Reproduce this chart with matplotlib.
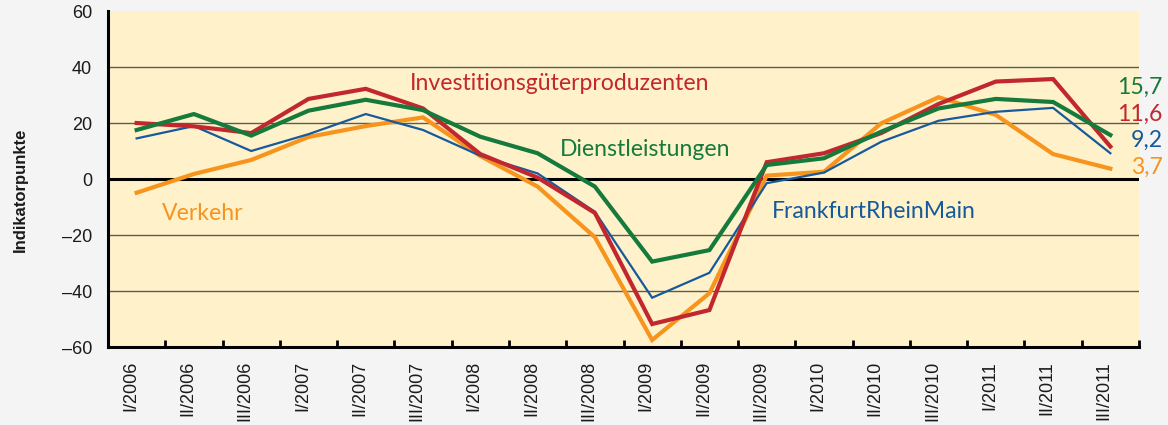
import matplotlib
matplotlib.use("Agg")
import matplotlib.pyplot as plt
import matplotlib.transforms as mtransforms

categories = ["I/2006", "II/2006", "III/2006", "I/2007", "II/2007", "III/2007",
              "I/2008", "II/2008", "III/2008", "I/2009", "II/2009", "III/2009",
              "I/2010", "II/2010", "III/2010", "I/2011", "II/2011", "III/2011"]

investition = [20.0, 18.8, 16.4, 28.6, 32.2, 25.2, 8.9, 0.5, -12.1, -51.8, -46.8, 6.0,
               9.2, 16.4, 26.8, 34.8, 35.7, 11.6]
dienstleistung = [17.5, 23.2, 15.5, 24.4, 28.3, 24.6, 15.1, 9.2, -2.7, -29.5, -25.4, 5.0,
                  7.4, 16.9, 25.2, 28.6, 27.5, 15.7]
frm = [14.5, 18.9, 10.0, 16.0, 23.2, 17.5, 8.3, 2.0, -11.7, -42.4, -33.5, -1.5,
       2.3, 13.3, 20.8, 24.0, 25.4, 9.2]
verkehr = [-4.9, 1.8, 6.8, 15.0, 18.9, 22.0, 8.2, -2.7, -20.8, -57.5, -40.8, 1.2,
           2.6, 19.9, 29.2, 22.9, 8.9, 3.7]

end_labels = ["15,7", "11,6", "9,2", "3,7"]
yticks = [-60, -40, -20, 0, 20, 40, 60]

RED = "#C1272D"
GREEN = "#157A3C"
BLUE = "#165A9C"
ORANGE = "#F7941D"
BG_OUT = "#F3F4F3"
BG_IN = "#FFF2CB"

fig = plt.figure(figsize=(11.68, 4.25), dpi=100, facecolor=BG_OUT)
ax = fig.add_axes([108/1168, 78/425, (1139-108)/1168, (414-78)/425])
ax.set_facecolor(BG_IN)

x = list(range(len(categories)))
ax.set_xlim(-0.5, len(categories) - 0.5)
ax.set_ylim(-60, 60)

for yv in [-40, -20, 20, 40]:
    ax.axhline(yv, color="#5f5a4c", lw=1.0, zorder=1)
ax.axhline(0, color="black", lw=2.2, zorder=2)

ax.plot(x, verkehr, color=ORANGE, lw=3.0, zorder=3, solid_joinstyle="miter")
ax.plot(x, frm, color=BLUE, lw=1.6, zorder=4, solid_joinstyle="miter")
ax.plot(x, investition, color=RED, lw=3.0, zorder=5, solid_joinstyle="miter")
ax.plot(x, dienstleistung, color=GREEN, lw=3.0, zorder=6, solid_joinstyle="miter")

for s in ["top", "right"]:
    ax.spines[s].set_visible(False)
for s in ["left", "bottom"]:
    ax.spines[s].set_linewidth(2.2)
    ax.spines[s].set_color("black")

ax.set_yticks(yticks)
ax.set_yticklabels([str(v).replace("-", "\u2013") for v in yticks],
                   fontsize=13, family="Liberation Sans", color="#1a1a1a")
ax.tick_params(axis="y", length=0, pad=11.5)

ax.set_xticks([i + 0.5 for i in x])
ax.set_xticklabels([])
ax.tick_params(axis="x", which="major", direction="in", length=5, width=2, color="black")
ax.set_xticks(x, minor=True)
ax.set_xticklabels(categories, minor=True, rotation=90, fontsize=13,
                   family="Liberation Sans", color="#1a1a1a")
ax.tick_params(axis="x", which="minor", length=0, pad=10)
offset = mtransforms.ScaledTranslation(-6/100, 0, fig.dpi_scale_trans)
for lab in ax.get_xticklabels(minor=True):
    lab.set_transform(lab.get_transform() + offset)

fig.text(20/1168, 1 - 190/425, "Indikatorpunkte", rotation=90, ha="center", va="center",
         fontsize=12, fontweight="bold", family="Liberation Sans", color="#1a1a1a")

tf = "Lato"
fs = 16.6
ax.text(4.77, 31.8, "Investitionsgüterproduzenten", color=RED, fontsize=fs, family=tf,
        ha="left", va="baseline", zorder=7)
ax.text(7.39, 8.2, "Dienstleistungen", color=GREEN, fontsize=fs, family=tf,
        ha="left", va="baseline", zorder=7)
ax.text(0.44, -14.6, "Verkehr", color=ORANGE, fontsize=fs, family=tf,
        ha="left", va="baseline", zorder=7)
ax.text(11.09, -13.9, "FrankfurtRheinMain", color=BLUE, fontsize=fs, family=tf,
        ha="left", va="baseline", zorder=7)

end_y = [30.4, 20.8, 11.5, 1.8]
end_c = [GREEN, RED, BLUE, ORANGE]
for lab, yy, c in zip(end_labels, end_y, end_c):
    ax.text(17.91, yy, lab, color=c, fontsize=fs, family=tf, ha="right", va="baseline",
            clip_on=False, zorder=7)

fig.savefig("out.png", dpi=100, facecolor=BG_OUT)
